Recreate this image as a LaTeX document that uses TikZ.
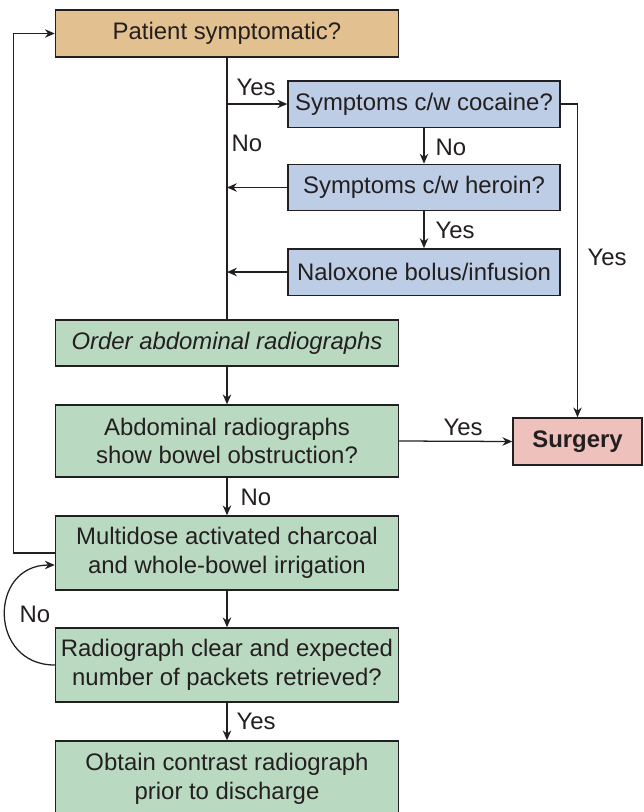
\documentclass[tikz,border=0pt]{standalone}
\usepackage{fontspec}
\setmainfont{Liberation Sans}
\usepackage{tikz,xcolor}
\usetikzlibrary{arrows.meta, calc}

\definecolor{tanbox}{HTML}{E2C08F}
\definecolor{bluebox}{HTML}{BDCDE5}
\definecolor{greenbox}{HTML}{BAD9C1}
\definecolor{pinkbox}{HTML}{EFC1BC}
\definecolor{inkline}{HTML}{231F20}

\tikzset{
  flowbox/.style={draw=inkline, line width=1pt, align=center, inner sep=2pt,
    font=\fontsize{17}{20.5}\selectfont, text=inkline},
  widebox/.style={flowbox, minimum width=8.575cm},
  sidebox/.style={flowbox, minimum width=6.8cm, minimum height=1.16cm, fill=bluebox},
  flowarrow/.style={draw=inkline, line width=0.9pt, -{Stealth[length=7pt,width=6pt]}},
  flowline/.style={draw=inkline, line width=0.9pt},
  answer/.style={font=\fontsize{17}{20.5}\selectfont, text=inkline}
}

\begin{document}
\begin{tikzpicture}[x=0.025cm, y=-0.025cm]
\useasboundingbox (0,0) rectangle (644,812);

  % Define the boxes
  \node[widebox, minimum height=1.175cm, fill=tanbox] (patient) at (227,33.5) {Patient symptomatic?};
  \node[sidebox] (cocaine) at (424,104) {Symptoms c/w cocaine?};
  \node[sidebox] (heroin) at (424,187.5) {Symptoms c/w heroin?};
  \node[sidebox] (naloxone) at (424,272) {Naloxone bolus/infusion};
  \node[widebox, minimum height=1.15cm, fill=greenbox] (order) at (227,343) {\itshape Order abdominal radiographs};
  \node[widebox, minimum height=1.8cm, fill=greenbox] (abdo) at (227,441) {Abdominal radiographs\\show bowel obstruction?};
  \node[flowbox, minimum width=3.225cm, minimum height=1.175cm, fill=pinkbox] (surgery) at (577.5,441.5) {\bfseries Surgery};
  \node[widebox, minimum height=1.85cm, fill=greenbox] (multidose) at (227,553) {Multidose activated charcoal\\and whole-bowel irrigation};
  \node[widebox, minimum height=1.85cm, fill=greenbox] (clear) at (227,665) {Radiograph clear and expected\\number of packets retrieved?};
  \node[widebox, minimum height=1.9cm, fill=greenbox] (contrast) at (227,779) {Obtain contrast radiograph\\prior to discharge};

  % Draw the main trunk
  \draw[flowline] (patient.south) -- (order.north);
  \draw[flowarrow] (patient.south |- cocaine.west) -- (cocaine.west);
  \foreach \side in {heroin, naloxone} {
    \draw[flowarrow] (\side.west) -- (patient.south |- \side.west);
  }

  % Draw the side column
  \draw[flowarrow] (cocaine.south) -- (heroin.north);
  \draw[flowarrow] (heroin.south) -- (naloxone.north);
  \draw[flowarrow] (cocaine.east) -| (surgery.north);

  % Draw the lower column
  \draw[flowarrow] (order.south) -- (abdo.north);
  \draw[flowarrow] (abdo.east) -- (surgery.west);
  \draw[flowarrow] (abdo.south) -- (multidose.north);
  \draw[flowarrow] (multidose.south) -- (clear.north);
  \draw[flowarrow] (clear.south) -- (contrast.north);

  % Draw the loops back
  \draw[flowarrow] (multidose.west) -- ++(-41,0) |- (patient.west);
  \draw[flowarrow] (clear.west) to[out=180, in=180, looseness=1.7] ([yshift=-0.3cm]multidose.west);

  % Labels
  \node[answer] (yes1) at (256,87) {Yes};
  \node[answer] (no1) at (247,143) {No};
  \node[answer] (no2) at (451,147) {No};
  \node[answer] (yes2) at (455,230) {Yes};
  \node[answer] (yes3) at (607,257) {Yes};
  \node[answer] (yes4) at (463,427) {Yes};
  \node[answer] (no3) at (256,497) {No};
  \node[answer] (no4) at (35,614) {No};
  \node[answer] (yes5) at (256,721) {Yes};
\end{tikzpicture}
\end{document}
